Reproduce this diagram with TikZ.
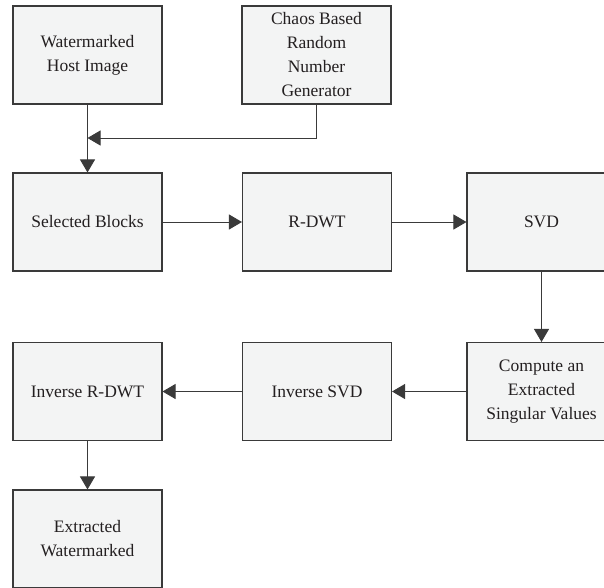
\documentclass[tikz,border=0pt]{standalone}
\usepackage{fontspec}
\setmainfont{Liberation Serif}
\newfontfamily\boxfont{Liberation Serif}
\usetikzlibrary{arrows.meta,calc}
\definecolor{boxfill}{HTML}{F3F4F4}
\definecolor{boxline}{HTML}{3A3A3A}
\definecolor{txt}{HTML}{231F20}
\begin{document}
\begin{tikzpicture}[x=1pt,y=-1pt,
  blk/.style={draw=boxline,fill=boxfill,line width=1.1pt,minimum width=149pt,minimum height=98pt,
    inner sep=0pt,align=center,text=txt,font=\boxfont\fontsize{17.5}{24}\selectfont},
  arr/.style={draw=boxline,line width=0.9pt,-{Triangle[length=13pt,width=15pt]}},
  ln/.style={draw=boxline,line width=0.9pt}]
\useasboundingbox (0,0) rectangle (604,587);
\clip (0,0) rectangle (604,587);
\node[blk] (host) at (87.5,55) {Watermarked\\Host Image};
\node[blk] (chaos) at (316.5,55) {Chaos Based\\Random\\Number\\Generator};
\node[blk] (sel) at (87.5,222) {Selected Blocks};
\node[blk] (rdwt) at (317,222) {R-DWT};
\node[blk] (svd) at (541.5,222) {SVD};
\node[blk] (comp) at (541.5,391.5) {Compute an\\Extracted\\Singular Values};
\node[blk] (isvd) at (317,391.5) {Inverse SVD};
\node[blk] (irdwt) at (87.5,391.5) {Inverse R-DWT};
\node[blk] (ext) at (87.5,539) {Extracted\\Watermarked};
\coordinate (j) at (87.5,138);
\draw[arr] (host.south) -- (sel.north);
\draw[arr] (chaos.south) |- (j);
\draw[arr] (sel.east) -- (rdwt.west);
\draw[arr] (rdwt.east) -- (svd.west);
\draw[arr] (svd.south) -- (comp.north);
\draw[arr] (comp.west) -- (isvd.east);
\draw[arr] (isvd.west) -- (irdwt.east);
\draw[arr] (irdwt.south) -- (ext.north);
\end{tikzpicture}
\end{document}
